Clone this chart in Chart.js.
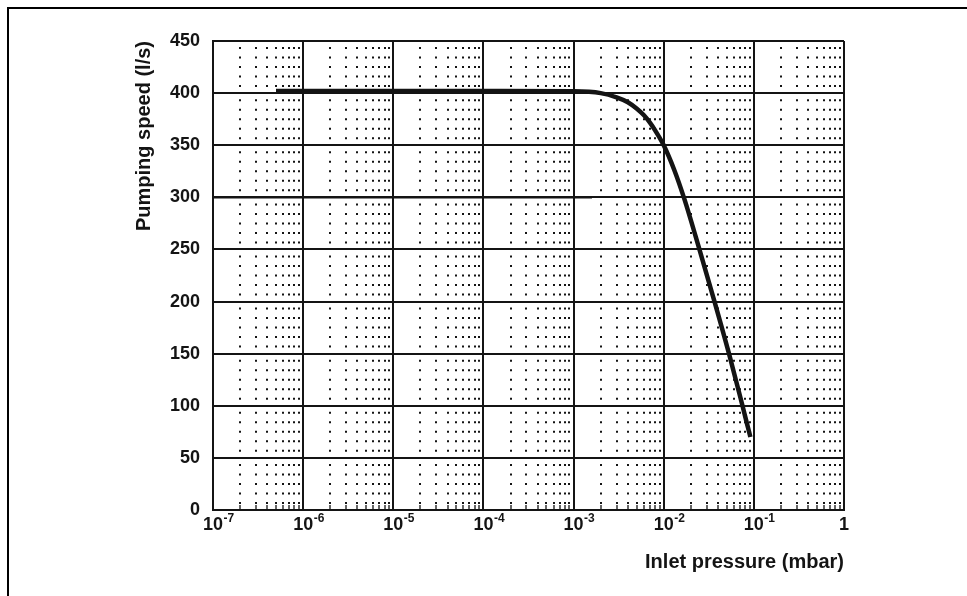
<!DOCTYPE html>
<html>
<head>
<meta charset="utf-8">
<script src="https://cdn.jsdelivr.net/npm/chart.js@4.4.1/dist/chart.umd.min.js"></script>
<style>
  html, body { margin: 0; padding: 0; background: #fff; }
  #wrap { position: relative; width: 967px; height: 596px; overflow: hidden; }
  #frame { position: absolute; left: 7px; top: 7px; width: 1000px; height: 700px;
           border-left: 2px solid #000; border-top: 2px solid #000; pointer-events: none; }
  canvas { position: absolute; left: 0; top: 0; }
</style>
</head>
<body>
<div id="wrap">
  <canvas id="c" width="967" height="596"></canvas>
  <div id="frame"></div>
</div>
<script>
// ---- data ----
const pressure = [5e-7, 1e-6, 1e-5, 1e-4, 1e-3, 2e-3, 3e-3, 4e-3, 5e-3, 6e-3, 7e-3, 8e-3, 1e-2, 1.3e-2, 1.7e-2, 2.49e-2, 3.66e-2, 5.3e-2, 7.48e-2, 9.15e-2];
const speed    = [402, 402, 402, 402, 401.7, 400, 396, 391.3, 385.3, 379, 372, 364.5, 350, 327, 298, 250, 200, 150, 100, 70];

const refPressure = [1e-7, 1.6e-3];
const refSpeed    = [300, 300];

const xMajorTicks = [1e-7, 1e-6, 1e-5, 1e-4, 1e-3, 1e-2, 1e-1, 1];
const xTickBase   = ['10', '10', '10', '10', '10', '10', '10', '1'];
const xTickExp    = ['-7', '-6', '-5', '-4', '-3', '-2', '-1', ''];
const xMinorTicks = [];
for (let e = -7; e < 0; e++) for (let m = 2; m <= 9; m++) xMinorTicks.push(m * Math.pow(10, e));

const yTicks = [0, 50, 100, 150, 200, 250, 300, 350, 400, 450];
const xTitle = 'Inlet pressure (mbar)';
const yTitle = 'Pumping speed (l/s)';

// ---- chart ----
const FONT = "'Liberation Sans', Arial, Helvetica, sans-serif";
const INK = '#141414';
const TICK_SIZE = 18, TICK_PAD = 4;

const curve = pressure.map((p, i) => ({ x: p, y: speed[i] }));
const ref = refPressure.map((p, i) => ({ x: p, y: refSpeed[i] }));

// dot pattern: 5 dots per 50 l/s band
const dotDash = [2, 7.5, 2, 7.5, 2, 7.5, 2, 7.5, 2, 12.1];

// draws the exponent of each decade label next to its "10"
const exponentPlugin = {
  id: 'exponents',
  afterDraw(chart) {
    const sx = chart.scales.x;
    const ctx = chart.ctx;
    const lineH = TICK_SIZE * 1.2;
    const mid = sx.top + TICK_PAD + lineH / 2;
    ctx.save();
    ctx.fillStyle = INK;
    ctx.textAlign = 'left';
    ctx.textBaseline = 'alphabetic';
    ctx.font = 'bold ' + TICK_SIZE + 'px ' + FONT;
    const baseW = ctx.measureText('10').width;
    ctx.font = 'bold 12px ' + FONT;
    xMajorTicks.forEach((v, i) => {
      if (!xTickExp[i]) return;
      const px = sx.getPixelForValue(v);
      ctx.fillText(xTickExp[i], px + baseW / 2 + 0.5, mid - 2.5);
    });
    ctx.restore();
  }
};

new Chart(document.getElementById('c'), {
  type: 'line',
  data: {
    datasets: [
      { data: curve, borderColor: INK, borderWidth: 4.5, pointRadius: 0,
        cubicInterpolationMode: 'monotone', fill: false },
      { data: ref, borderColor: INK, borderWidth: 2.3, pointRadius: 0, fill: false }
    ]
  },
  plugins: [exponentPlugin],
  options: {
    responsive: false,
    animation: false,
    layout: { padding: { left: 132, right: 123, top: 41, bottom: 22 } },
    plugins: { legend: { display: false }, tooltip: { enabled: false } },
    scales: {
      x: {
        type: 'logarithmic', position: 'bottom', weight: 1,
        min: 1e-7, max: 1,
        afterBuildTicks: s => { s.ticks = xMajorTicks.map(v => ({ value: v })); },
        afterFit: s => { s.height = 64; },
        ticks: {
          autoSkip: false, maxRotation: 0, padding: TICK_PAD, color: INK,
          font: { family: FONT, size: TICK_SIZE, weight: 'bold' },
          callback: (v, i) => xTickBase[i]
        },
        grid: { color: INK, drawTicks: false, lineWidth: 2 },
        border: { display: true, color: INK, width: 2 },
        title: {
          display: true, text: xTitle, align: 'end', color: INK,
          font: { family: FONT, size: 20, weight: 'bold' },
          padding: { top: 0, bottom: 0 }
        }
      },
      x2: {
        type: 'logarithmic', position: 'bottom', weight: 0,
        min: 1e-7, max: 1,
        afterBuildTicks: s => { s.ticks = xMinorTicks.map(v => ({ value: v })); },
        afterFit: s => { s.height = 0; },
        ticks: { display: false, autoSkip: false },
        grid: {
          color: INK, lineWidth: 2, drawTicks: true, tickLength: -5,
          tickWidth: 1.3, tickColor: INK, tickBorderDash: []
        },
        border: { display: false, dash: dotDash, dashOffset: 46 }
      },
      y: {
        type: 'linear', position: 'left',
        min: 0, max: 450,
        afterBuildTicks: s => { s.ticks = yTicks.map(v => ({ value: v })); },
        afterFit: s => { s.width = 213 - 132; },
        ticks: {
          padding: 13, color: INK,
          font: { family: FONT, size: 18, weight: 'bold' }
        },
        grid: { color: INK, drawTicks: false, lineWidth: 2 },
        border: { display: true, color: INK, width: 2 },
        title: {
          display: true, text: yTitle, align: 'end', color: INK,
          font: { family: FONT, size: 20, weight: 'bold' },
          padding: { top: 0, bottom: 0 }
        }
      }
    }
  }
});
</script>
</body>
</html>
